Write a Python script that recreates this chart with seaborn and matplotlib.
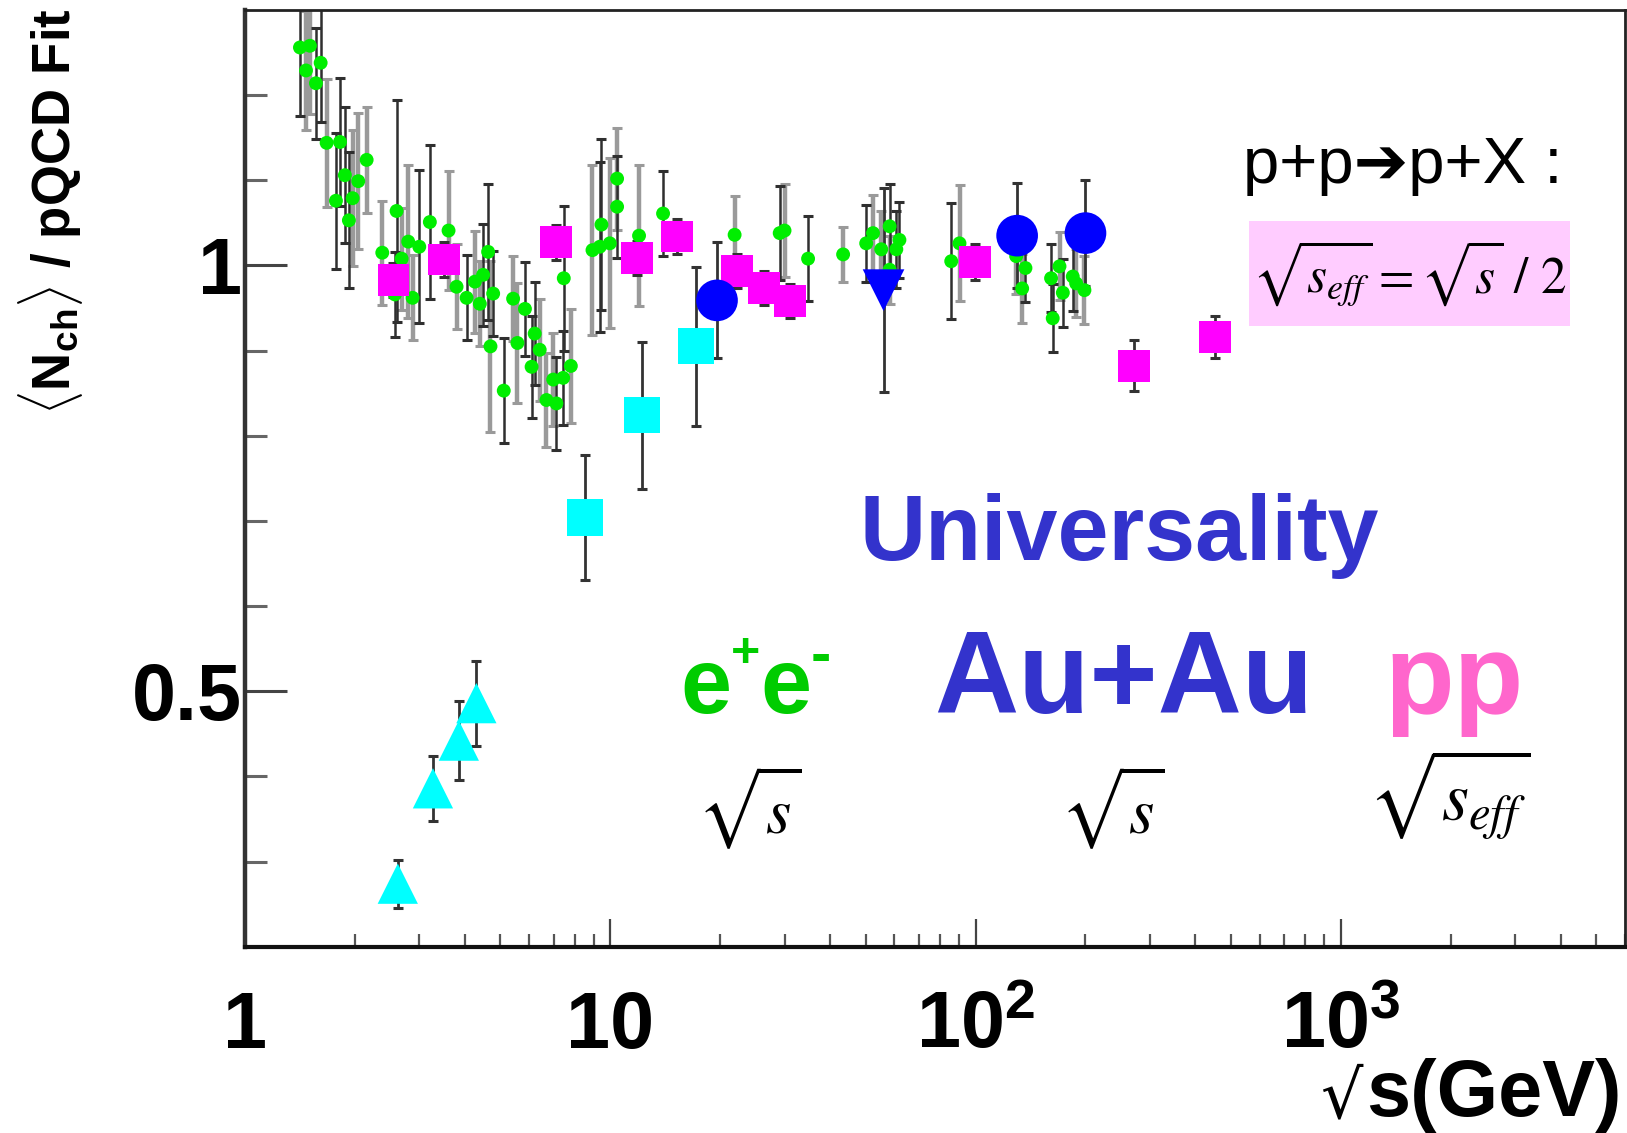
import matplotlib
matplotlib.use("Agg")
import matplotlib.pyplot as plt
import seaborn as sns
import pandas as pd
from matplotlib import font_manager
from matplotlib.patches import Rectangle
from matplotlib.ticker import FixedLocator, LogLocator, NullFormatter

# e+e- data (sqrt s, ratio, error)
ee_x = [1.414, 1.506, 1.611, 1.469, 1.564, 1.673, 1.820, 2.153, 1.877, 2.042,
        1.774, 1.971, 1.925, 2.376, 2.60, 2.798, 3.0, 2.684, 2.573, 2.876,
        3.207, 3.608, 4.63, 3.795, 4.043, 4.26, 4.487, 4.395, 4.78, 5.42,
        5.84, 4.70, 5.11, 5.57, 6.21, 6.41, 6.09, 6.98, 7.43, 6.69,
        7.12, 7.80, 7.46, 8.94, 9.46, 9.97, 9.36, 10.44, 10.44, 11.99,
        13.95, 21.9, 29.1, 30.0, 34.8, 43.4, 50.2, 52.4, 58.2, 55.2,
        60.7, 58.2, 61.9, 90.4, 85.8, 129.2, 137.0, 134.2, 161.0, 169.8,
        184.6, 188.6, 173.4, 198.7, 162.7]
ee_y = [1.256, 1.258, 1.238, 1.229, 1.214, 1.144, 1.145, 1.124, 1.106, 1.099,
        1.076, 1.079, 1.053, 1.015, 1.064, 1.028, 1.022, 1.008, 0.966, 0.962,
        1.051, 1.041, 1.016, 0.975, 0.962, 0.981, 0.989, 0.955, 0.967, 0.961,
        0.949, 0.905, 0.853, 0.909, 0.920, 0.901, 0.881, 0.866, 0.868, 0.842,
        0.838, 0.882, 0.985, 1.018, 1.048, 1.026, 1.022, 1.102, 1.069, 1.035,
        1.061, 1.036, 1.038, 1.041, 1.008, 1.013, 1.026, 1.038, 1.046, 1.019,
        1.019, 0.995, 1.030, 1.026, 1.005, 1.011, 0.997, 0.973, 0.985, 0.999,
        0.987, 0.979, 0.968, 0.971, 0.938]
ee_err = [0.08, 0.08, 0.07, 0.07, 0.065, 0.075, 0.075, 0.062, 0.08, 0.08,
          0.08, 0.08, 0.08, 0.061, 0.13, 0.09, 0.09, 0.06, 0.05, 0.05,
          0.09, 0.07, 0.08, 0.05, 0.05, 0.06, 0.06, 0.05, 0.05, 0.05,
          0.055, 0.10, 0.062, 0.07, 0.06, 0.06, 0.06, 0.055, 0.055, 0.055,
          0.055, 0.067, 0.085, 0.10, 0.10, 0.10, 0.10, 0.06, 0.06, 0.083,
          0.05, 0.045, 0.055, 0.055, 0.05, 0.032, 0.045, 0.045, 0.05, 0.045,
          0.045, 0.04, 0.045, 0.068, 0.068, 0.045, 0.04, 0.04, 0.04, 0.04,
          0.04, 0.04, 0.04, 0.04, 0.04]

# p+p (plotted at sqrt(s_eff))
pp_x = [2.55, 3.51, 7.1, 11.87, 15.2, 22.2, 26.3, 31.0, 99.5, 271.0, 453.0]
pp_y = [0.983, 1.007, 1.027, 1.009, 1.034, 0.993, 0.973, 0.958, 1.004, 0.882, 0.916]
pp_err = [0.02, 0.02, 0.02, 0.02, 0.02, 0.02, 0.02, 0.02, 0.021, 0.03, 0.025]

# Au+Au
auau_x = [19.6, 130.0, 200.0]
auau_y = [0.959, 1.035, 1.038]
auau_err = [0.068, 0.062, 0.062]
auau2_x = [56.0]
auau2_y = [0.971]
auau2_err = [0.12]

# lower energy heavy ion points
ags_x = [8.55, 12.2, 17.2]
ags_y = [0.704, 0.824, 0.905]
ags_err = [0.073, 0.086, 0.093]
low_x = [2.62, 3.27, 3.85, 4.30]
low_y = [0.274, 0.386, 0.442, 0.486]
low_err = [0.028, 0.038, 0.046, 0.05]

x_ticks = [1, 10, 100, 1000]
x_ticklabels = ["1", "10", r"$\mathbf{10^{2}}$", r"$\mathbf{10^{3}}$"]
y_ticks = [0.5, 1.0]
y_ticklabels = ["0.5", "1"]
y_minor = [0.3, 0.4, 0.6, 0.7, 0.8, 0.9, 1.1, 1.2]

W, H = 1627, 1133

sns.set_theme(style="white")
names = {f.name for f in font_manager.fontManager.ttflist}
narrow = "Liberation Sans Narrow" in names
plt.rcParams["font.family"] = ["Liberation Sans", "DejaVu Sans"]
plt.rcParams["text.color"] = "black"
plt.rcParams["mathtext.fontset"] = "custom"
plt.rcParams["mathtext.rm"] = "Liberation Sans"
plt.rcParams["mathtext.bf"] = "Liberation Sans:bold"
plt.rcParams["mathtext.it"] = "Liberation Sans:italic"


def fx(px):
    return px / W


def fy(py):
    return 1 - py / H


fig = plt.figure(figsize=(W / 100, H / 100), dpi=100)
ax = fig.add_axes([fx(245), fy(946.7), (1625 - 245) / W, (946.7 - 10) / H])

# error bars first
for i, (xv, yv, ev) in enumerate(zip(ee_x, ee_y, ee_err)):
    if i % 2:
        ax.errorbar(xv, yv, yerr=ev, fmt="none", ecolor="#9a9a9a", elinewidth=3.2,
                    capsize=3.5, capthick=2.2, zorder=2)
    else:
        ax.errorbar(xv, yv, yerr=ev, fmt="none", ecolor="#2f2f2f", elinewidth=1.8,
                    capsize=3.5, capthick=2.2, zorder=2.1)
for xs, ys, es in [(pp_x, pp_y, pp_err), (auau_x, auau_y, auau_err),
                   (auau2_x, auau2_y, auau2_err), (ags_x, ags_y, ags_err),
                   (low_x, low_y, low_err)]:
    ax.errorbar(xs, ys, yerr=es, fmt="none", ecolor="#333333", elinewidth=2,
                capsize=3.5, capthick=2.2, zorder=2.2)

series = [
    (ee_x, ee_y, "o", "#00ee00", 10),
    (low_x, low_y, "^", "#00ffff", 29),
    (ags_x, ags_y, "s", "#00ffff", 26),
    (pp_x, pp_y, "s", "#ff00ff", 23),
    (auau_x, auau_y, "o", "#0000ff", 30),
    (auau2_x, auau2_y, "v", "#0000ff", 30),
]
for k, (xs, ys, mk, col, ms) in enumerate(series):
    df = pd.DataFrame({"x": xs, "y": ys})
    sns.scatterplot(data=df, x="x", y="y", marker=mk, color=col, s=ms ** 2,
                    edgecolor="none", linewidth=0, ax=ax, zorder=3 + k)

ax.set_xscale("log")
ax.set_xlim(1, 6000)
ax.set_ylim(0.2, 1.3)
ax.set_xlabel("")
ax.set_ylabel("")

ax.set_xticks(x_ticks)
ax.set_xticklabels(x_ticklabels)
ax.xaxis.set_minor_locator(LogLocator(base=10, subs=range(2, 10)))
ax.xaxis.set_minor_formatter(NullFormatter())
ax.set_yticks(y_ticks)
ax.set_yticklabels(y_ticklabels)
ax.yaxis.set_minor_locator(FixedLocator(y_minor))

ax.tick_params(axis="x", which="major", direction="in", length=20, width=1.6,
               color="#444444", labelsize=57, labelcolor="black", pad=31, bottom=True)
ax.tick_params(axis="x", which="minor", direction="in", length=9.5, width=1.6,
               color="#555555", bottom=True)
ax.tick_params(axis="y", which="major", direction="in", length=30, width=2.2,
               color="#444444", labelsize=57, labelcolor="black", pad=2, left=True)
ax.tick_params(axis="y", which="minor", direction="in", length=16, width=2.2,
               color="#666666", left=True)
for lab in ax.get_xticklabels() + ax.get_yticklabels():
    lab.set_fontweight("bold")

ax.spines["left"].set_linewidth(3.2)
ax.spines["left"].set_color("#333333")
ax.spines["bottom"].set_linewidth(3.0)
ax.spines["bottom"].set_color("#111111")
ax.spines["top"].set_linewidth(2.0)
ax.spines["top"].set_color("#222222")
ax.spines["right"].set_linewidth(2.0)
ax.spines["right"].set_color("#222222")

# y axis title, right-aligned to the top like ROOT
if narrow:
    yfam, ysize = ["Liberation Sans Narrow", "DejaVu Sans"], 44
    plt.rcParams["mathtext.bf"] = "Liberation Sans Narrow:bold"
else:
    yfam, ysize = ["Liberation Sans", "DejaVu Sans"], 38
fig.text(fx(16), fy(8), r"$\langle\mathbf{N_{ch}}\rangle$ / pQCD Fit", rotation=90,
         ha="left", va="top", fontsize=ysize, fontweight="bold", family=yfam)

# x axis title
fig.text(fx(1622), fy(1116), "s(GeV)", ha="right", va="baseline",
         fontsize=57, fontweight="bold")
fig.text(fx(1320), fy(1117), "\u221a", ha="left", va="baseline",
         fontsize=48, family=["DejaVu Sans"])

# annotations
fig.text(fx(1243), fy(183), "p+p\u2794p+X :", ha="left", va="baseline",
         fontsize=47, family=["Liberation Sans", "DejaVu Sans"])
fig.patches.append(Rectangle((fx(1249), fy(326)), (1570 - 1249) / W, (326 - 221) / H,
                             transform=fig.transFigure, facecolor="#ffccff",
                             edgecolor="none", zorder=1))
fig.text(fx(1409), fy(273), r"$\sqrt{s_{eff}} = \sqrt{s}\ /\ 2$", ha="center",
         va="center", fontsize=37, math_fontfamily="stix", zorder=2)

fig.text(fx(1119), fy(560), "Universality", ha="center", va="baseline",
         fontsize=66, fontweight="bold", color="#3333cc")

# e+e- from pieces: small raised charges, short minus
green = "#00cc00"
fig.text(fx(680), fy(713), "e", ha="left", va="baseline",
         fontsize=66, fontweight="bold", color=green)
fig.text(fx(731), fy(667), "+", ha="left", va="baseline",
         fontsize=36, fontweight="bold", color=green)
fig.text(fx(760), fy(713), "e", ha="left", va="baseline",
         fontsize=66, fontweight="bold", color=green)
fig.text(fx(811), fy(673), "-", ha="left", va="baseline",
         fontsize=44, fontweight="bold", color=green)

fig.text(fx(934), fy(713), "Au+Au", ha="left", va="baseline",
         fontsize=84, fontweight="bold", color="#3333cc")
fig.text(fx(1384), fy(713), "pp", ha="left", va="baseline",
         fontsize=82, fontweight="bold", color="#ff66cc")

fig.text(fx(697), fy(833), r"$\sqrt{s}$", ha="left", va="baseline",
         fontsize=47, math_fontfamily="stix")
fig.text(fx(1060), fy(833), r"$\sqrt{s}$", ha="left", va="baseline",
         fontsize=47, math_fontfamily="stix")
fig.text(fx(1368), fy(823), r"$\sqrt{s_{eff}}$", ha="left", va="baseline",
         fontsize=50, math_fontfamily="stix")

fig.savefig("out.png", dpi=100)
